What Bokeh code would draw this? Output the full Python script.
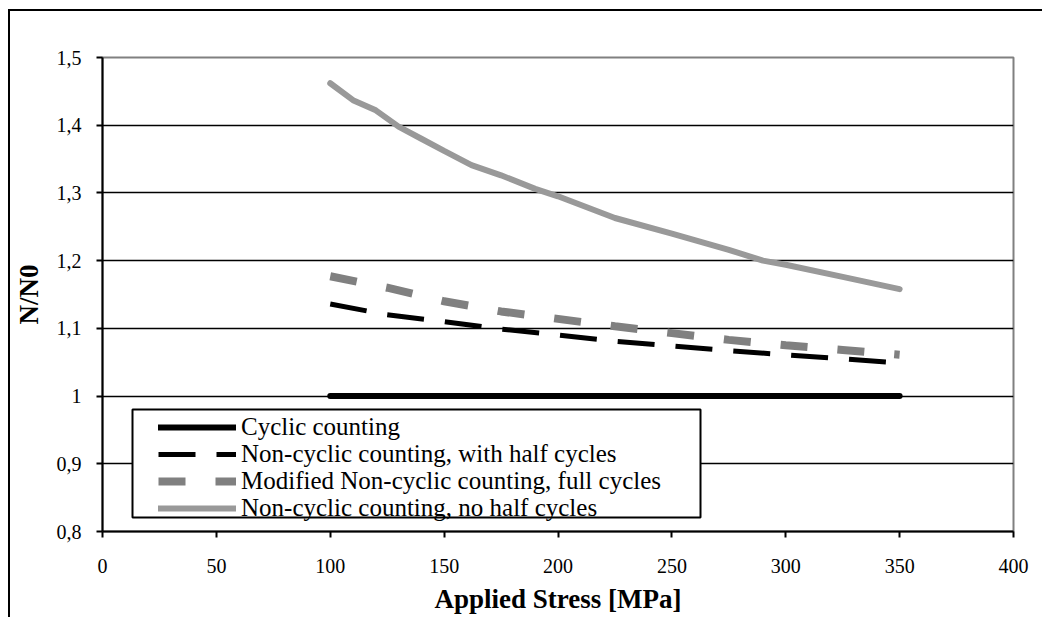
from bokeh.plotting import figure
from bokeh.models import FixedTicker, Legend, LegendItem, Range1d, BoxAnnotation
from bokeh.embed import file_html
from bokeh.resources import INLINE

# ---- data ----
stress = [100, 125, 150, 175, 200, 225, 250, 275, 300, 325, 350]
cyclic = [1.0, 1.0, 1.0, 1.0, 1.0, 1.0, 1.0, 1.0, 1.0, 1.0, 1.0]
noncyclic_half = [1.136, 1.120, 1.110, 1.099, 1.090, 1.081, 1.074, 1.067, 1.061, 1.055, 1.049]
modified_full = [1.177, 1.160, 1.140, 1.125, 1.114, 1.103, 1.093, 1.083, 1.075, 1.068, 1.061]

stress_nohalf = [100, 110, 120, 130, 140, 150, 162, 175, 190, 200, 225, 250, 275, 290, 300, 325, 350]
noncyclic_nohalf = [1.462, 1.437, 1.422, 1.398, 1.380, 1.362, 1.341, 1.326, 1.306, 1.295,
                    1.263, 1.240, 1.216, 1.200, 1.194, 1.176, 1.158]

series_names = ["Cyclic counting",
                "Non-cyclic counting, with half cycles",
                "Modified Non-cyclic counting, full cycles",
                "Non-cyclic counting, no half cycles"]

x_ticks = [0, 50, 100, 150, 200, 250, 300, 350, 400]
y_ticks = [0.8, 0.9, 1.0, 1.1, 1.2, 1.3, 1.4, 1.5]
y_tick_labels = ["0,8", "0,9", "1", "1,1", "1,2", "1,3", "1,4", "1,5"]

FONT = "'Liberation Serif', 'Times New Roman', serif"

p = figure(width=1034, height=608,
           x_range=Range1d(x_ticks[0], x_ticks[-1]),
           y_range=Range1d(y_ticks[0], y_ticks[-1]),
           output_backend="svg", toolbar_location=None,
           min_border_left=92, min_border_right=31,
           min_border_top=46, min_border_bottom=88)
p.styles = {"margin-left": "8px", "margin-top": "9px",
            "border-left": "2px solid black", "border-top": "2px solid black"}

p.background_fill_color = "white"
p.border_fill_color = "white"
p.outline_line_color = "#808080"
p.outline_line_width = 2

# grid
p.xgrid.grid_line_color = None
p.ygrid.ticker = FixedTicker(ticks=y_ticks[1:-1])
p.ygrid.grid_line_color = "black"
p.ygrid.grid_line_width = 1.5

# axes
p.xaxis.ticker = FixedTicker(ticks=x_ticks)
p.yaxis.ticker = FixedTicker(ticks=y_ticks)
p.yaxis.major_label_overrides = {t: l for t, l in zip(y_ticks, y_tick_labels)}
for ax in (p.xaxis[0], p.yaxis[0]):
    ax.axis_line_color = "black"
    ax.axis_line_width = 2
    ax.major_tick_line_color = "black"
    ax.major_tick_line_width = 2
    ax.major_tick_out = 6
    ax.major_tick_in = 0
    ax.minor_tick_line_color = None
    ax.major_label_text_font = FONT
    ax.major_label_text_font_size = "20px"
    ax.major_label_text_color = "black"
    ax.axis_label_text_font = FONT
    ax.axis_label_text_font_size = "27px"
    ax.axis_label_text_font_style = "bold"
    ax.axis_label_text_color = "black"

p.xaxis.major_label_standoff = 21
p.yaxis.major_label_standoff = 15
p.xaxis.axis_label = "Applied Stress [MPa]"
p.yaxis.axis_label = "N/N0"
p.xaxis.axis_label_standoff = 8
p.yaxis.axis_label_standoff = 10

# series
r1 = p.line(stress, cyclic, line_color="black", line_width=6, line_cap="round")
r2 = p.line(stress, noncyclic_half, line_color="black", line_width=5, line_dash="37 21")
r3 = p.line(stress, modified_full, line_color="#808080", line_width=8, line_dash="27 30")
r4 = p.line(stress_nohalf, noncyclic_nohalf, line_color="#999999", line_width=6, line_cap="round")

# legend frame (screen units, relative to the plot frame)
legend_box = BoxAnnotation(left=30, right=598, bottom=14, top=122,
                           left_units="screen", right_units="screen",
                           bottom_units="screen", top_units="screen",
                           fill_color="white", fill_alpha=1.0,
                           line_color="black", line_width=2, line_alpha=1.0)
p.add_layout(legend_box)

# one legend per row so the rows can sit as tightly as in the reference
row_offsets = [90, 63, 36, 9]
for name, r, yoff in zip(series_names, [r1, r2, r3, r4], row_offsets):
    lg = Legend(items=[LegendItem(label=name, renderers=[r])],
                location=(56, yoff), orientation="vertical",
                glyph_width=78, glyph_height=28, label_height=28,
                label_standoff=5, padding=0, spacing=0, margin=0,
                label_text_font=FONT, label_text_font_size="25px",
                label_text_color="black", label_text_baseline="middle",
                border_line_color=None, background_fill_alpha=0.0)
    p.add_layout(lg)

open("out.html", "w").write(file_html(p, INLINE))
